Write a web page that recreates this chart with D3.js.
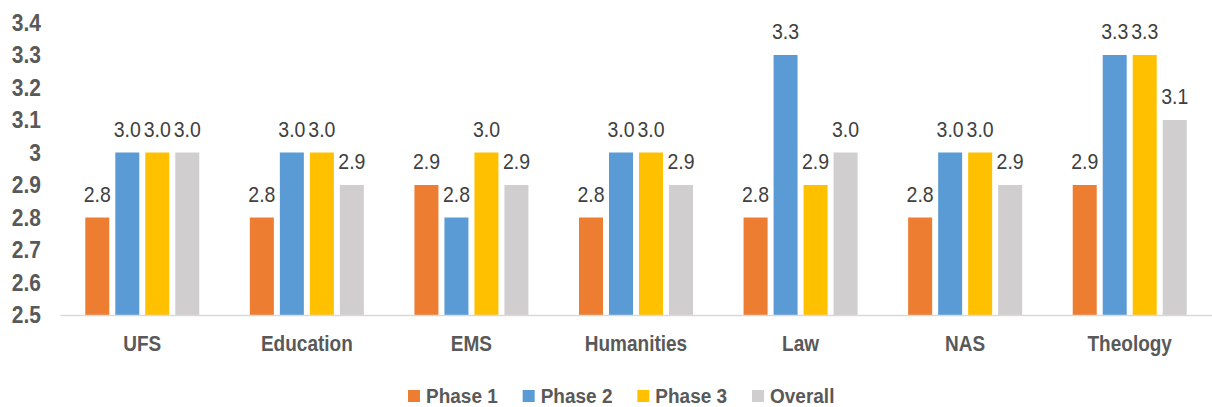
<!DOCTYPE html>
<html>
<head>
<meta charset="utf-8">
<script src="https://cdn.jsdelivr.net/npm/d3@7"></script>
<style>
  html, body { margin: 0; padding: 0; background: #fff; }
  svg { display: block; font-family: "Liberation Sans", Arial, sans-serif; }
</style>
</head>
<body>
<svg id="chart" width="1212" height="407"></svg>
<script>
// Faculty scores per phase
const categories = ["UFS", "Education", "EMS", "Humanities", "Law", "NAS", "Theology"];
const series = ["Phase 1", "Phase 2", "Phase 3", "Overall"];
const phase1  = [2.8, 2.8, 2.9, 2.8, 2.8, 2.8, 2.9];
const phase2  = [3.0, 3.0, 2.8, 3.0, 3.3, 3.0, 3.3];
const phase3  = [3.0, 3.0, 3.0, 3.0, 2.9, 3.0, 3.3];
const overall = [3.0, 2.9, 2.9, 2.9, 3.0, 2.9, 3.1];
const yTicks = [2.5, 2.6, 2.7, 2.8, 2.9, 3.0, 3.1, 3.2, 3.3, 3.4];
const colors = ["#ED7D31", "#5B9BD5", "#FFC000", "#D0CECE"];

const values = [phase1, phase2, phase3, overall];
const rows = categories.map((c, i) => ({
  category: c,
  items: series.map((s, j) => ({ series: s, value: values[j][i], color: colors[j] }))
}));

const svg = d3.select("#chart");
const plotLeft = 60, plotRight = 1212, plotTop = 22.5, plotBottom = 315;
const stretch = 1.15;   // tall, narrow lettering

const y = d3.scaleLinear().domain([2.5, 3.4]).range([plotBottom, plotTop]);
const x0 = d3.scaleBand().domain(categories).range([plotLeft, plotRight]);
const x1 = d3.scaleBand().domain(series)
  .range([x0.bandwidth() / 2 - 60, x0.bandwidth() / 2 + 60])
  .paddingInner(0.2).paddingOuter(0.1);

// Y axis labels (no axis line, no gridlines)
const yAxis = d3.axisLeft(y).tickValues(yTicks).tickSize(0).tickPadding(0)
  .tickFormat(d => Math.abs(d - 3) < 1e-9 ? "3" : d3.format(".1f")(d));
const yg = svg.append("g").attr("transform", "translate(41,0)").call(yAxis);
yg.select(".domain").remove();
yg.selectAll("text")
  .attr("transform", `scale(1,${stretch})`)
  .attr("fill", "#595959")
  .style("font-size", "21px")
  .style("font-weight", "bold")
  .style("font-family", "'Liberation Sans', Arial, sans-serif");

// Bars
const groups = svg.append("g").selectAll("g").data(rows).join("g")
  .attr("transform", d => `translate(${x0(d.category)},0)`);

groups.selectAll("rect").data(d => d.items).join("rect")
  .attr("x", d => x1(d.series))
  .attr("width", x1.bandwidth())
  .attr("y", d => y(d.value))
  .attr("height", d => y(2.5) - y(d.value))
  .attr("fill", d => d.color);

// Value labels
groups.selectAll("text.val").data(d => d.items).join("text")
  .attr("class", "val")
  .attr("transform", d => `translate(${x1(d.series) + x1.bandwidth() / 2},${y(d.value) - 16}) scale(1,1.1)`)
  .attr("text-anchor", "middle")
  .attr("fill", "#404040")
  .style("font-size", "19.5px")
  .text(d => d3.format(".1f")(d.value));

// X axis
const xAxis = d3.axisBottom(x0).tickSize(0).tickPadding(0);
const xg = svg.append("g").attr("transform", `translate(0,${plotBottom})`).call(xAxis);
xg.select(".domain").attr("stroke", "#D9D9D9").attr("stroke-width", 1.5);
xg.selectAll("text")
  .attr("dy", null)
  .attr("y", 36 / stretch)
  .attr("transform", `scale(1,${stretch})`)
  .attr("fill", "#595959")
  .style("font-size", "19px")
  .style("font-weight", "bold")
  .style("font-family", "'Liberation Sans', Arial, sans-serif");

// Legend
const legendX = d3.scalePoint().domain(series).range([408, 752]);
const lg = svg.append("g").selectAll("g").data(series).join("g")
  .attr("transform", d => `translate(${legendX(d)},390)`);
lg.append("rect").attr("width", 12).attr("height", 12)
  .attr("fill", (d, i) => colors[i]);
lg.append("text")
  .attr("transform", `translate(18,12.5) scale(1,1.1)`)
  .attr("fill", "#595959")
  .style("font-size", "19px")
  .style("font-weight", "bold")
  .text(d => d);
</script>
</body>
</html>
